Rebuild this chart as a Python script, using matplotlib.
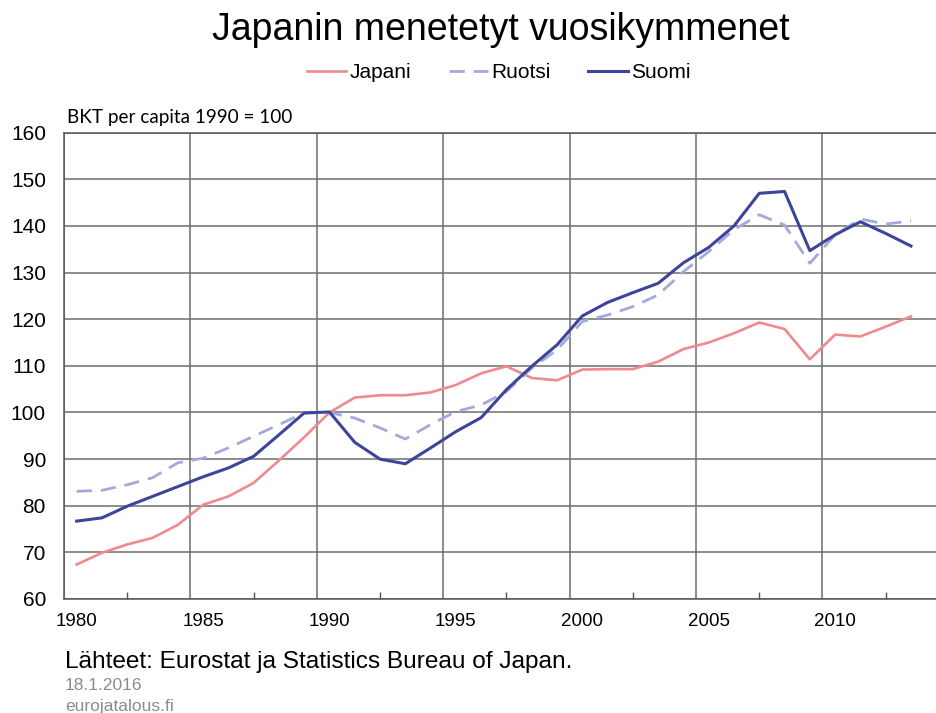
import matplotlib
matplotlib.use("Agg")
import matplotlib.pyplot as plt
from matplotlib.ticker import FixedLocator, NullFormatter

plt.rcParams["font.family"] = ["Liberation Sans", "DejaVu Sans"]

years = list(range(1980, 2014))

japani = [67.4, 69.9, 71.7, 73.1, 75.9, 80.2, 82.0, 84.9, 89.7, 94.7,
          100.0, 103.2, 103.7, 103.7, 104.3, 105.9, 108.4, 109.9, 107.4, 106.9,
          109.2, 109.3, 109.3, 110.9, 113.6, 115.0, 117.0, 119.3, 117.9, 111.4,
          116.7, 116.3, 118.4, 120.6]

ruotsi = [83.1, 83.3, 84.5, 86.0, 89.2, 90.2, 92.4, 94.9, 97.4, 99.9,
          100.0, 98.8, 96.7, 94.3, 97.4, 100.2, 101.6, 104.5, 109.5, 113.4,
          119.5, 120.9, 122.7, 125.2, 130.2, 134.5, 139.2, 142.4, 140.2, 132.0,
          138.1, 141.5, 140.4, 141.1]

suomi = [76.7, 77.4, 79.9, 82.0, 84.1, 86.2, 88.1, 90.6, 95.2, 99.9,
         100.1, 93.6, 90.0, 89.0, 92.4, 95.9, 98.9, 104.9, 109.9, 114.5,
         120.7, 123.6, 125.7, 127.7, 132.1, 135.4, 140.0, 147.0, 147.4, 134.7,
         138.1, 140.9, 138.4, 135.7]

label_years = [1980, 1985, 1990, 1995, 2000, 2005, 2010]

# points sit in the middle of each year's slot
x = [y + 0.5 for y in years]

fig = plt.figure(figsize=(9.37, 7.13), dpi=100)
ax = fig.add_axes([64 / 937, 1 - 599 / 713, 1 - 64 / 937, (599 - 132.7) / 713])

ax.plot(x, japani, color="#EF8A8E", lw=1.9, label="Japani", zorder=3)
ax.plot(x, ruotsi, color="#A4A9DA", lw=2.0, dashes=(5.5, 3.2), label="Ruotsi", zorder=3)
ax.plot(x, suomi, color="#3D459B", lw=2.2, label="Suomi", zorder=4)

ax.set_xlim(1980, 2014.53)
ax.set_ylim(60, 160)
ax.set_yticks(range(60, 161, 10))

ax.xaxis.set_major_locator(FixedLocator([y + 0.5 for y in label_years]))
ax.set_xticklabels([str(y) for y in label_years])
ax.xaxis.set_minor_locator(FixedLocator(label_years))
ax.xaxis.set_minor_formatter(NullFormatter())
ax.tick_params(axis="x", which="major", length=0, labelsize=13.5, pad=10)
ax.tick_params(axis="x", which="minor", length=0)
ax.tick_params(axis="y", length=0, labelsize=15, pad=13)

ax.grid(True, axis="x", which="minor", color="#6e6e6e", lw=1.1)
ax.grid(True, axis="y", which="major", color="#6e6e6e", lw=1.1)

# small inward ticks half way between the grid lines
sec = ax.secondary_xaxis("bottom")
sec.xaxis.set_major_locator(FixedLocator([y + 2.5 for y in label_years]))
sec.xaxis.set_major_formatter(NullFormatter())
sec.tick_params(direction="in", length=5, color="#555555", width=1)
sec.spines["bottom"].set_visible(False)

for side in ["left", "bottom", "top"]:
    ax.spines[side].set_color("#555555")
    ax.spines[side].set_linewidth(1.1)
ax.spines["right"].set_visible(False)

fig.text(0.534, 1 - 30 / 713, "Japanin menetetyt vuosikymmenet",
         ha="center", va="center", fontsize=27)

fig.legend(loc="center", bbox_to_anchor=(0.532, 1 - 73 / 713), ncol=3,
           frameon=False, fontsize=15, handlelength=1.9, handletextpad=0.15,
           columnspacing=1.8)

fig.text(67 / 937, 1 - 117 / 713, "BKT per capita 1990 = 100",
         ha="left", va="center", fontsize=13.6, family=["Lato", "DejaVu Sans"])

fig.text(65 / 937, 1 - 662 / 713, "Lähteet: Eurostat ja Statistics Bureau of Japan.",
         ha="left", va="center", fontsize=17.6)
fig.text(65 / 937, 1 - 685 / 713, "18.1.2016",
         ha="left", va="center", fontsize=12.5, color="#8c8c8c")
fig.text(65 / 937, 1 - 706 / 713, "eurojatalous.fi",
         ha="left", va="center", fontsize=12.5, color="#8c8c8c")

fig.savefig("out.png", dpi=100)
